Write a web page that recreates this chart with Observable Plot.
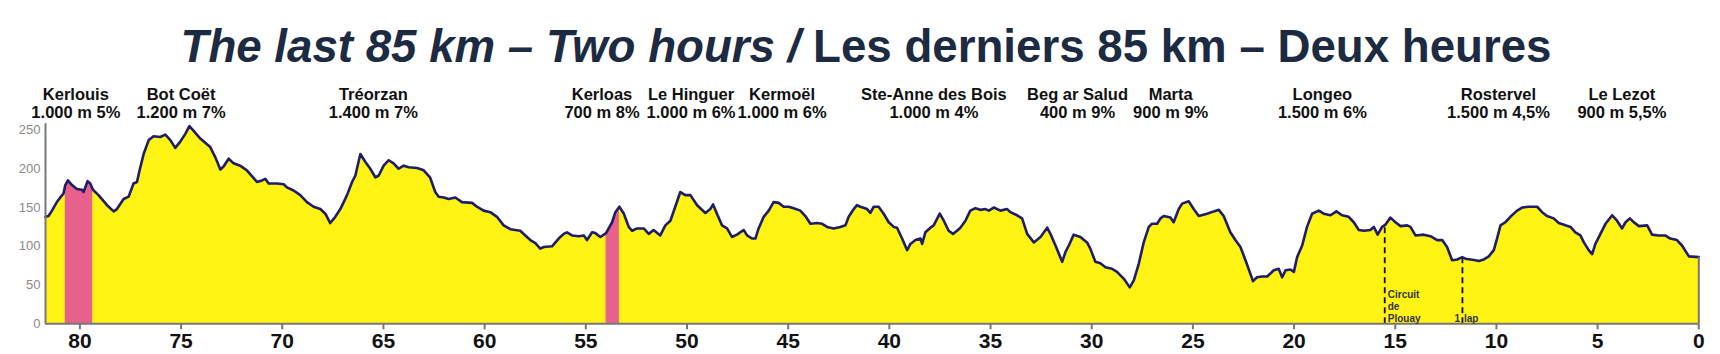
<!DOCTYPE html>
<html><head><meta charset="utf-8">
<script src="https://cdn.jsdelivr.net/npm/d3@7"></script>
<script src="https://cdn.jsdelivr.net/npm/@observablehq/plot@0.6"></script>
<style>
body{margin:0;background:#fff;width:1720px;height:354px;overflow:hidden;font-family:"Liberation Sans",Arial,sans-serif;}
#title{position:relative;height:78px;width:1720px;}
#t{position:absolute;left:866px;top:22px;white-space:nowrap;font-size:47px;line-height:47px;font-weight:bold;color:#1c2a42;transform-origin:0 0;}
#chart svg{display:block;}
</style></head><body>
<div id="title"><span id="t"><i>The last 85 km – Two hours /</i> Les derniers 85 km – Deux heures</span></div>
<div id="chart"></div>
<script>
// distance to finish (km) and altitude (m)
const km = [81.7,81.55,81.38,81.14,80.97,80.81,80.72,80.59,80.39,80.15,79.90,79.82,79.62,79.49,79.37,79.32,79.08,78.66,78.33,78.17,77.84,77.59,77.35,77.18,77.05,76.85,76.60,76.36,76.03,75.78,75.53,75.29,75.04,74.79,74.59,74.38,74.05,73.56,73.31,73.06,72.90,72.65,72.40,72.08,71.75,71.25,71.00,70.84,70.67,70.26,69.93,69.77,69.44,69.11,68.78,68.45,68.12,67.87,67.63,67.38,67.13,66.80,66.55,66.39,66.14,65.90,65.65,65.40,65.24,64.99,64.74,64.50,64.25,64.00,63.75,63.34,63.01,62.70,62.44,62.27,62.02,61.78,61.45,61.12,60.62,60.38,60.05,59.72,59.39,59.06,58.73,58.24,57.99,57.74,57.49,57.25,57.08,56.67,56.34,56.09,55.93,55.68,55.35,55.10,54.94,54.69,54.53,54.28,54.00,53.70,53.54,53.34,53.12,52.88,52.71,52.47,52.14,51.89,51.65,51.32,51.07,50.82,50.58,50.33,50.08,49.83,49.50,49.09,48.85,48.71,48.52,48.27,48.02,47.78,47.53,47.20,47.03,46.79,46.62,46.46,46.21,45.96,45.72,45.47,45.22,44.97,44.73,44.40,44.15,43.90,43.57,43.32,43.08,42.75,42.42,42.17,42.01,41.76,41.60,41.43,41.10,40.94,40.77,40.53,40.28,40.03,39.78,39.62,39.37,39.12,38.96,38.71,38.46,38.38,38.22,37.97,37.81,37.51,37.31,37.07,36.85,36.66,36.49,36.24,36.00,35.75,35.50,35.25,35.09,34.84,34.51,34.18,34.02,33.69,33.44,33.19,32.86,32.53,32.20,32.04,31.79,31.46,31.29,31.13,30.89,30.56,30.23,30.07,29.82,29.57,29.32,29.00,28.75,28.41,28.12,27.92,27.68,27.43,27.18,27.02,26.77,26.60,26.44,26.11,25.95,25.70,25.53,25.21,24.96,24.71,24.30,23.97,23.72,23.48,23.15,22.90,22.65,22.40,22.03,21.83,21.58,21.33,21.00,20.76,20.59,20.42,20.18,20.01,19.85,19.60,19.36,19.11,18.78,18.53,18.20,17.91,17.63,17.30,17.05,16.80,16.55,16.23,16.06,15.87,15.65,15.48,15.24,14.99,14.74,14.41,14.25,14.00,13.59,13.26,12.93,12.68,12.44,12.19,11.94,11.69,11.53,11.28,11.04,10.87,10.62,10.38,10.13,9.97,9.80,9.56,9.31,8.98,8.73,8.40,7.99,7.74,7.50,7.17,6.92,6.59,6.34,6.10,5.85,5.68,5.44,5.27,5.11,4.86,4.61,4.28,4.04,3.79,3.62,3.41,3.21,2.96,2.55,2.31,1.99,1.66,1.41,1.08,0.83,0.49,0.00];
const elevation = [138,139,146,157,163,168,179,185,179,174,173,170,184,181,174,172,166,153,145,148,161,164,181,183,198,219,237,242,241,244,237,227,235,245,255,249,239,228,215,199,203,213,207,204,198,183,185,187,181,181,180,176,172,166,157,151,148,142,130,138,148,166,183,191,219,209,200,189,191,204,211,207,200,204,202,201,198,189,170,164,163,161,163,157,156,151,146,144,138,127,122,120,114,108,104,97,99,100,110,116,118,114,113,114,108,118,117,112,117,131,144,151,142,125,120,123,123,116,121,114,127,133,151,170,166,166,153,143,148,154,142,127,123,112,115,121,114,110,110,123,138,146,157,156,151,151,149,146,139,129,130,129,125,123,125,127,138,148,153,151,148,143,151,151,142,131,125,124,110,95,103,108,110,103,118,124,127,142,133,120,116,120,124,133,146,149,147,148,146,150,146,148,144,140,136,116,105,112,124,116,101,80,93,101,115,112,105,97,80,78,73,71,67,58,47,56,77,105,125,129,129,136,139,137,131,148,155,158,148,139,142,145,147,139,118,108,99,82,55,60,61,61,69,71,60,69,70,67,86,101,125,142,146,142,140,145,140,138,131,121,120,121,125,115,125,128,137,131,126,127,125,114,115,113,108,108,99,82,83,86,84,83,82,81,83,87,95,110,127,131,138,146,150,151,151,144,139,136,130,127,125,118,114,105,95,90,103,116,129,140,133,123,131,136,131,126,127,115,114,114,110,108,101,87,86];

// climbs
const climbNames = ["Kerlouis","Bot Coët","Tréorzan","Kerloas","Le Hinguer","Kermoël","Ste-Anne des Bois","Beg ar Salud","Marta","Longeo","Rostervel","Le Lezot"];
const climbDetails = ["1.000 m 5%","1.200 m 7%","1.400 m 7%","700 m 8%","1.000 m 6%","1.000 m 6%","1.000 m 4%","400 m 9%","900 m 9%","1.500 m 6%","1.500 m 4,5%","900 m 5,5%"];
const climbKm = [80.2,75.0,65.5,54.2,49.8,45.3,37.8,30.7,26.1,18.6,9.9,3.8];

// highlighted (pink) sectors
const sectorFrom = [80.72, 54.00];
const sectorTo = [79.37, 53.34];

// dashed markers
const markerKm = [15.52, 11.68];
const markerTop = [125, 86];
const circuitText = "Circuit\nde\nPlouay";
const lapLeft = "1";
const lapRight = "lap";

const xTicks = [0,5,10,15,20,25,30,35,40,45,50,55,60,65,70,75,80];
const yTicks = [0,50,100,150,200,250];
const xMax = 81.7, yMax = 258;

const profile = km.map((k, i) => ({km: k, elev: elevation[i]}));
const sectors = [];
profile.forEach(d => {
  sectorFrom.forEach((f, j) => {
    if (d.km <= f + 1e-9 && d.km >= sectorTo[j] - 1e-9) sectors.push({...d, s: j});
  });
});
const climbs = climbNames.map((n, i) => ({name: n, detail: climbDetails[i], km: climbKm[i]}));
const markers = markerKm.map((k, i) => ({km: k, top: markerTop[i]}));

const yellow = "#fff314", navy = "#1d1d6a", pink = "#e8618c", grey = "#777";
const small = {frameAnchor: "bottom", lineAnchor: "bottom", dy: -2, fontSize: 10, fontWeight: "bold", fill: "#333"};

const chart = Plot.plot({
  width: 1720, height: 276,
  marginLeft: 45, marginRight: 21.7, marginTop: 45.3, marginBottom: 30.7,
  style: {fontFamily: '"Liberation Sans", Arial, sans-serif', background: "#fff"},
  x: {domain: [xMax, 0], label: null},
  y: {domain: [0, yMax], label: null},
  marks: [
    Plot.areaY(profile, {x: "km", y: "elev", fill: yellow}),
    Plot.areaY(sectors, {x: "km", y: "elev", z: "s", fill: pink}),
    Plot.ruleX(markers, {x: "km", y1: 0, y2: "top", stroke: "#111", strokeWidth: 1.8, strokeDasharray: "6,4"}),
    Plot.lineY(profile, {x: "km", y: "elev", stroke: navy, strokeWidth: 2.6}),
    Plot.ruleX([profile[profile.length - 1]], {x: "km", y1: 0, y2: "elev", stroke: grey, strokeWidth: 2}),
    Plot.ruleY([0], {stroke: grey, strokeWidth: 2}),
    Plot.ruleX([xMax], {y1: 0, y2: yMax, stroke: grey, strokeWidth: 2}),
    Plot.axisX({ticks: xTicks, tickSize: 6, tickPadding: 3, fontSize: 21, fontWeight: "bold", fill: "#111", stroke: grey, strokeWidth: 2, tickFormat: d => d}),
    Plot.axisY({ticks: yTicks, tickSize: 0, tickPadding: 5, fontSize: 13, fill: "#8a8a8a"}),
    Plot.text([markers[0]], {x: "km", text: () => circuitText, textAnchor: "start", dx: 3, lineHeight: 1.2, ...small}),
    Plot.text([markers[1]], {x: "km", text: () => lapLeft, textAnchor: "end", dx: -2.5, ...small}),
    Plot.text([markers[1]], {x: "km", text: () => lapRight, textAnchor: "start", dx: 1.5, ...small}),
    Plot.text(climbs, {x: "km", text: "name", frameAnchor: "top", lineAnchor: "bottom", dy: -24.3, fontSize: 16.5, fontWeight: "bold", fill: "#111"}),
    Plot.text(climbs, {x: "km", text: "detail", frameAnchor: "top", lineAnchor: "bottom", dy: -6.3, fontSize: 16.5, fontWeight: "bold", fill: "#111"})
  ]
});
document.getElementById("chart").append(chart);

// condense title to reference width
const t = document.getElementById("t");
const w = t.getBoundingClientRect().width;
t.style.transform = `translateX(${-1371 / 2}px) scaleX(${1371 / w})`;
</script>
</body></html>
